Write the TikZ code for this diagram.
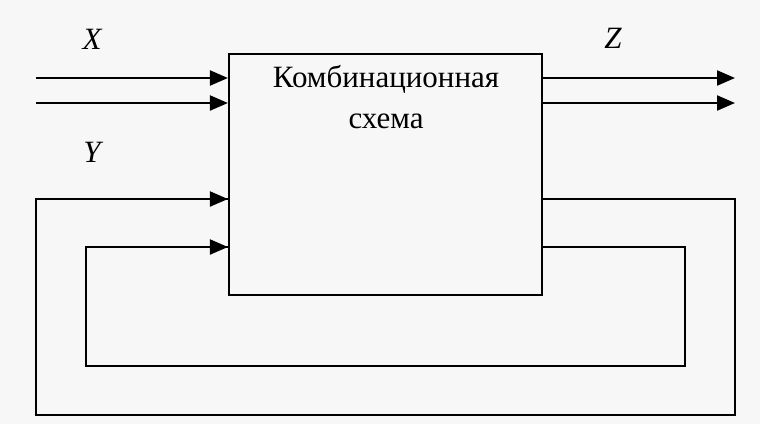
\documentclass[tikz,border=0pt]{standalone}
\usepackage{fontspec}
\setmainfont{Liberation Serif}
\usetikzlibrary{arrows.meta}
\begin{document}
\begin{tikzpicture}[x=1pt,y=-1pt,
  wire/.style={line width=2.2pt},
  arr/.style={wire,-{Triangle[length=18pt,width=15pt]}},
  lbl/.style={font=\fontsize{31}{36}\selectfont\itshape},
  blk/.style={draw,line width=2.2pt,minimum width=313pt,minimum height=241pt,inner sep=0pt}]
\useasboundingbox (0,0) rectangle (760,424);
\fill[white!97!black] (0,0) rectangle (760,424);
\node[blk,fill=white!97!black] (cs) at (385.5,174.5) {};
\node[font=\fontsize{31}{41}\selectfont,align=center,anchor=base] (t) at (386,128) {Комбинационная\\схема};
% inputs X
\coordinate (x1) at (36,78);
\coordinate (x2) at (36,103);
\draw[arr] (x1) -- (x1 -| cs.west);
\draw[arr] (x2) -- (x2 -| cs.west);
% outputs Z
\coordinate (z1) at (735,78);
\coordinate (z2) at (735,103);
\draw[arr] (z1 -| cs.east) -- (z1);
\draw[arr] (z2 -| cs.east) -- (z2);
% outer feedback
\coordinate (o1) at (735,199);
\coordinate (o2) at (735,415);
\coordinate (o3) at (36,415);
\coordinate (o4) at (36,199);
\draw[wire] (o1 -| cs.east) -- (o1) -- (o2) -- (o3) -- (o4) -- (o4 -| cs.west);
\draw[arr] (o4) -- (o4 -| cs.west);
% inner feedback
\coordinate (i1) at (685,247);
\coordinate (i2) at (685,366);
\coordinate (i3) at (86,366);
\coordinate (i4) at (86,247);
\draw[wire] (i1 -| cs.east) -- (i1) -- (i2) -- (i3) -- (i4) -- (i4 -| cs.west);
\draw[arr] (i4) -- (i4 -| cs.west);
% labels
\node[lbl] (lx) at (92,39) {X};
\node[lbl] (ly) at (92,152) {Y};
\node[lbl] (lz) at (613,38) {Z};
\end{tikzpicture}
\end{document}
